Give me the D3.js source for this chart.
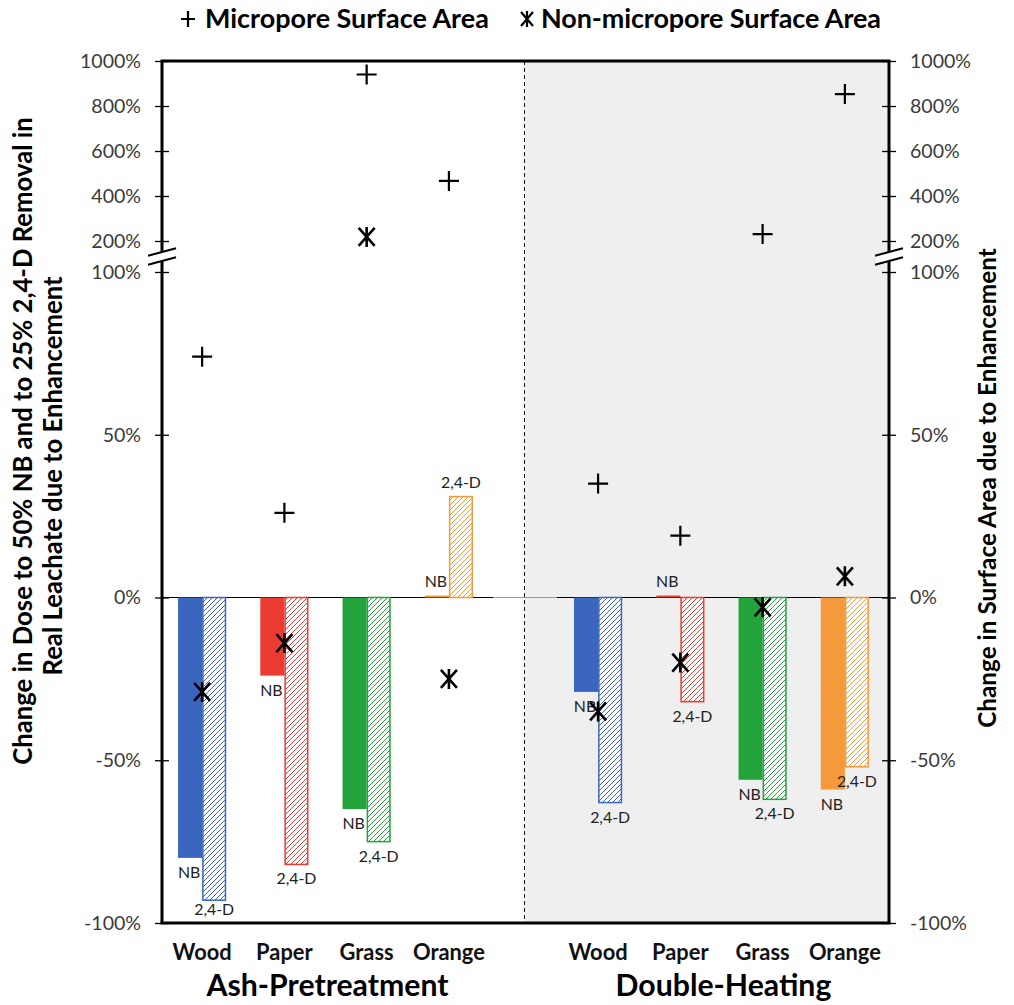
<!DOCTYPE html>
<html><head><meta charset="utf-8">
<script src="https://cdn.jsdelivr.net/npm/d3@7"></script>
<style>
body{margin:0;background:#fff}
svg{display:block}
text{font-family:Lato,"Open Sans","DejaVu Sans",sans-serif}
</style>
</head><body>
<svg id="c" width="1014" height="1005"></svg>
<script>
// ---------------- data ----------------
const groups = ["Ash-Pretreatment", "Double-Heating"];
const materials = ["Wood", "Paper", "Grass", "Orange"];
const series = ["NB", "2,4-D"];
// change in dose (%), order: Ash Wood..Orange, Double Wood..Orange
const nbChange  = [-80, -24, -65, 0.6, -29, 0.6, -56, -59];
const d24Change = [-93, -82, -75, 31, -63, -32, -62, -52];
// change in surface area (%)
const microporeSA    = [74, 26, 940, 467, 35, 19, 231, 853];
const nonMicroporeSA = [-29, -14, 218, -25, -35, -20, -3, 6.5];
const lowerTicks = [-100, -50, 0, 50, 100];
const upperTicks = [200, 400, 600, 800, 1000];
const colors = ["#3a66c0", "#ec3b32", "#22a33c", "#f59a3a"];
const legendLabels = ["Micropore Surface Area", "Non-micropore Surface Area"];
const leftTitle = ["Change in Dose to 50% NB and to 25% 2,4-D Removal in", "Real Leachate due to Enhancement"];
const rightTitle = "Change in Surface Area due to Enhancement";

// ---------------- layout ----------------
const svg = d3.select("#c");
const L = 162, R = 889, T = 61, B = 923;
const yLow = d3.scaleLinear().domain([-100, 100]).range([B, 272]);
const yUp = d3.scaleLinear().domain([200, 1000]).range([241, T]);
const y = v => v > 100 ? yUp(v) : yLow(v);
const x0 = d3.scaleBand().domain(groups).range([161, 886]).paddingInner(0.169);
const x1 = d3.scaleBand().domain(materials).range([0, x0.bandwidth()]);
const xs = d3.scaleBand().domain(series).range([0, x1.bandwidth()]).paddingOuter(0.708);

const rows = nbChange.map((d, i) => ({
  i, group: groups[Math.floor(i / 4)], material: materials[i % 4], color: colors[i % 4],
  nb: d, d24: d24Change[i], mp: microporeSA[i], nmp: nonMicroporeSA[i]
}));
const cx = r => x0(r.group) + x1(r.material) + x1.bandwidth() / 2;
const bx = (r, s) => x0(r.group) + x1(r.material) + xs(s);

const measure = svg.append("text").attr("visibility", "hidden");
function fitSize(str, weight, target) {
  measure.attr("font-weight", weight).attr("font-size", 100).text(str);
  return 100 * target / measure.node().getComputedTextLength();
}

// ---------------- background ----------------
const sepX = (x0(groups[0]) + x0.bandwidth() + x0(groups[1])) / 2 + 1;
svg.append("rect").attr("x", sepX).attr("y", T).attr("width", R - sepX).attr("height", B - T).attr("fill", "#efefef");
svg.append("line").attr("x1", sepX).attr("x2", sepX).attr("y1", T).attr("y2", B)
  .attr("stroke", "#111").attr("stroke-width", 1).attr("stroke-dasharray", "4,3");

// zero line
svg.append("line").attr("x1", L).attr("x2", R).attr("y1", y(0)).attr("y2", y(0)).attr("stroke", "#999").attr("stroke-width", 1.2);
groups.forEach(g => {
  svg.append("line").attr("x1", Math.max(L, x0(g))).attr("x2", Math.min(R, x0(g) + x0.bandwidth() + 3))
    .attr("y1", y(0)).attr("y2", y(0)).attr("stroke", "#000").attr("stroke-width", 1.2);
});

// hatch patterns
const defs = svg.append("defs");
colors.forEach((c, k) => {
  const p = defs.append("pattern").attr("id", "h" + k).attr("patternUnits", "userSpaceOnUse")
    .attr("width", 5).attr("height", 5);
  p.append("rect").attr("width", 5).attr("height", 5).attr("fill", "#fff");
  p.append("path").attr("d", "M-1,1L1,-1M0,5L5,0M4,6L6,4").attr("stroke", c).attr("stroke-width", 1);
});

// ---------------- bars ----------------
const bw = xs.bandwidth();
const y0 = y(0);
svg.append("g").selectAll("rect").data(rows).join("rect")
  .attr("x", r => bx(r, "NB")).attr("width", bw)
  .attr("y", r => Math.min(y0, y(r.nb))).attr("height", r => Math.abs(y(r.nb) - y0))
  .attr("fill", r => r.color);
svg.append("g").selectAll("rect").data(rows).join("rect")
  .attr("x", r => bx(r, "2,4-D") + 0.75).attr("width", bw - 1.5)
  .attr("y", r => Math.min(y0, y(r.d24))).attr("height", r => Math.abs(y(r.d24) - y0))
  .attr("fill", r => `url(#h${r.i % 4})`).attr("stroke", r => r.color).attr("stroke-width", 1.5);

// bar labels
const lblSize = fitSize("2,4-D", 400, 40);
const lblBase = v => v >= 0 ? y(v) - 9 : Math.min(y(v) + 20, B - 8);
svg.append("g").selectAll("text").data(rows).join("text")
  .attr("x", r => bx(r, "NB") + bw / 2 - 1).attr("y", r => lblBase(r.nb))
  .attr("text-anchor", "middle").attr("font-size", lblSize).attr("fill", "#222").text("NB");
svg.append("g").selectAll("text").data(rows).join("text")
  .attr("x", r => bx(r, "2,4-D") + bw / 2).attr("y", r => lblBase(r.d24))
  .attr("text-anchor", "middle").attr("font-size", lblSize).attr("fill", "#222").text("2,4-D");

// ---------------- markers ----------------
const plusPath = "M-10,0H10M0,-10V10";
const astPath = "M-8,-9L8,9M-8,9L8,-9M0,-10V10";
svg.append("g").selectAll("path").data(rows).join("path")
  .attr("transform", r => `translate(${cx(r)},${y(r.mp)})`).attr("d", plusPath)
  .attr("stroke", "#000").attr("stroke-width", 2.2).attr("fill", "none");
svg.append("g").selectAll("path").data(rows).join("path")
  .attr("transform", r => `translate(${cx(r)},${y(r.nmp)})`).attr("d", astPath)
  .attr("stroke", "#000").attr("stroke-width", 2.6).attr("fill", "none");

// ---------------- axes ----------------
const tickSize = fitSize("1000%", 400, 61);
function drawAxis(side) {
  const ax = side === "left" ? L : R;
  const mk = side === "left" ? d3.axisLeft : d3.axisRight;
  [[yLow, lowerTicks], [yUp, upperTicks]].forEach(([sc, tv]) => {
    const g = svg.append("g").attr("transform", `translate(${ax},0)`)
      .call(mk(sc).tickValues(tv).tickFormat(d => d + "%").tickSize(7).tickPadding(14));
    g.select(".domain").remove();
    g.selectAll(".tick line").attr("x1", -7).attr("x2", 7).attr("stroke", "#000").attr("stroke-width", 1.3);
    g.selectAll(".tick text").attr("font-size", tickSize).attr("fill", "#3a3a3a")
      .attr("font-family", "Lato,'Open Sans',sans-serif");
  });
}
drawAxis("left");
drawAxis("right");

// frame
const frame = svg.append("g").attr("stroke", "#000").attr("stroke-width", 3).attr("fill", "none");
frame.append("path").attr("d", `M${L},${B}V${T}H${R}V${B}`);
frame.append("line").attr("x1", L - 1.5).attr("x2", R + 1.5).attr("y1", B).attr("y2", B);

// axis breaks
const bc = (y(100) + yUp(200)) / 2;
[L, R].forEach(ax => {
  const pts = [[ax - 13, bc - 4.5 + 3.5], [ax + 13, bc - 4.5 - 3.5], [ax + 13, bc + 4.5 - 3.5], [ax - 13, bc + 4.5 + 3.5]];
  svg.append("polygon").attr("points", pts.map(p => p.join(",")).join(" ")).attr("fill", "#fff");
  [-4.5, 4.5].forEach(o => {
    svg.append("line").attr("x1", ax - 14).attr("y1", bc + o + 3.8).attr("x2", ax + 14).attr("y2", bc + o - 3.8)
      .attr("stroke", "#000").attr("stroke-width", 2);
  });
});

// ---------------- category & group labels ----------------
const catSize = fitSize("Orange", 700, 72);
svg.append("g").selectAll("text").data(rows).join("text")
  .attr("x", r => cx(r)).attr("y", 960).attr("text-anchor", "middle")
  .attr("font-size", catSize).attr("font-weight", 700).attr("fill", "#111").text(r => r.material);
const grpSize = fitSize("Ash-Pretreatment", 700, 242);
svg.append("g").selectAll("text").data(groups).join("text")
  .attr("x", g => x0(g) + x0.bandwidth() / 2 + 2).attr("y", 996).attr("text-anchor", "middle")
  .attr("font-size", grpSize).attr("font-weight", 700).attr("fill", "#000").text(g => g);

// ---------------- legend ----------------
const legSize = fitSize(legendLabels[0], 700, 284);
svg.append("path").attr("transform", "translate(188,19)").attr("d", "M-7,0H7M0,-8V8")
  .attr("stroke", "#000").attr("stroke-width", 2.2);
svg.append("text").attr("x", 205).attr("y", 28).attr("font-size", legSize).attr("font-weight", 700).text(legendLabels[0]);
svg.append("path").attr("transform", "translate(527,19)").attr("d", "M-6,-7L6,7M-6,7L6,-7M0,-8V8")
  .attr("stroke", "#000").attr("stroke-width", 2.2).attr("fill", "none");
svg.append("text").attr("x", 541).attr("y", 28).attr("font-size", legSize).attr("font-weight", 700)
  .attr("textLength", 340).text(legendLabels[1]);

// ---------------- axis titles ----------------
const t1Size = fitSize(leftTitle[0], 700, 648);
svg.append("text").attr("transform", "translate(32,441) rotate(-90)").attr("text-anchor", "middle")
  .attr("font-size", t1Size).attr("font-weight", 700).text(leftTitle[0]);
svg.append("text").attr("transform", `translate(${32 + t1Size * 1.15},476) rotate(-90)`).attr("text-anchor", "middle")
  .attr("font-size", t1Size).attr("font-weight", 700).text(leftTitle[1]);
const t3Size = Math.min(t1Size, fitSize(rightTitle, 700, 480));
svg.append("text").attr("transform", "translate(996,488) rotate(-90)").attr("text-anchor", "middle")
  .attr("font-size", t3Size).attr("font-weight", 700).text(rightTitle);
measure.remove();
</script>
</body></html>
